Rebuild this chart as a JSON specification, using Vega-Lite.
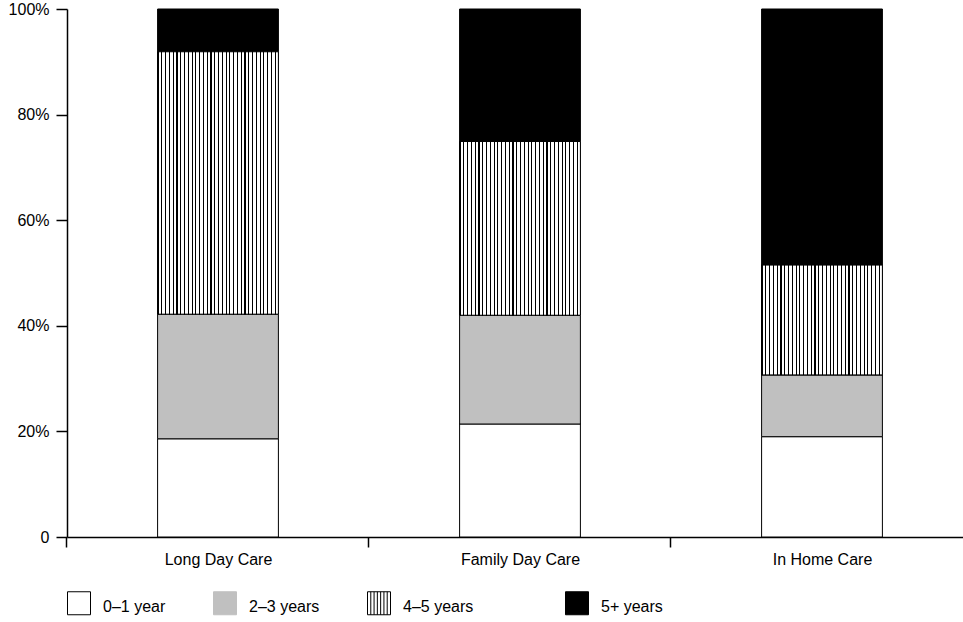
{
  "$schema": "https://vega.github.io/schema/vega-lite/v6.json",
  "width": 896,
  "height": 528,
  "autosize": "none",
  "padding": {"left": 67, "top": 9, "right": 0, "bottom": 85},
  "background": "white",
  "config": {
    "view": {"stroke": null},
    "font": "Liberation Sans",
    "axis": {"labelColor": "black", "labelFont": "Liberation Sans", "labelFontSize": 16, "domainColor": "black", "tickColor": "black", "domainWidth": 1.5, "tickWidth": 1.5, "grid": false, "title": null}
  },
  "data": {
    "values": [
      {"setting": "Long Day Care", "age": "0–1 year", "pct": 18.6},
      {"setting": "Long Day Care", "age": "2–3 years", "pct": 23.6},
      {"setting": "Long Day Care", "age": "4–5 years", "pct": 49.7},
      {"setting": "Long Day Care", "age": "5+ years", "pct": 8.1},
      {"setting": "Family Day Care", "age": "0–1 year", "pct": 21.4},
      {"setting": "Family Day Care", "age": "2–3 years", "pct": 20.6},
      {"setting": "Family Day Care", "age": "4–5 years", "pct": 32.9},
      {"setting": "Family Day Care", "age": "5+ years", "pct": 25.1},
      {"setting": "In Home Care", "age": "0–1 year", "pct": 19.0},
      {"setting": "In Home Care", "age": "2–3 years", "pct": 11.7},
      {"setting": "In Home Care", "age": "4–5 years", "pct": 20.8},
      {"setting": "In Home Care", "age": "5+ years", "pct": 48.5}
    ]
  },
  "transform": [
    {"stack": "pct", "groupby": ["setting"], "sort": [{"field": "age", "order": "ascending"}], "offset": "normalize", "as": ["y0", "y1"]}
  ],
  "encoding": {
    "x": {
      "field": "setting",
      "type": "nominal",
      "sort": ["Long Day Care", "Family Day Care", "In Home Care"],
      "scale": {"paddingInner": 0.6, "paddingOuter": 0.3, "range": [0, 906]},
      "axis": {"labelAngle": 0, "tickOffset": -151.6, "labelOffset": 151.6, "tickSize": 10, "labelPadding": 4}
    },
    "y": {
      "field": "y0",
      "type": "quantitative",
      "scale": {"domain": [0, 1]},
      "axis": {"values": [0, 0.2, 0.4, 0.6, 0.8, 1], "labelExpr": "datum.value == 0 ? '0' : format(datum.value, '.0%')", "tickSize": 11, "labelPadding": 7}
    },
    "y2": {"field": "y1"}
  },
  "layer": [
    {
      "mark": {"type": "bar", "stroke": "black", "strokeWidth": 1},
      "encoding": {
        "color": {
          "field": "age",
          "type": "nominal",
          "scale": {
            "domain": ["0–1 year", "2–3 years", "4–5 years", "5+ years"],
            "range": ["#ffffff", "#c0c0c0", "#ffffff", "#000000"]
          },
          "legend": {
            "orient": "none",
            "legendX": 0,
            "legendY": 582,
            "direction": "horizontal",
            "title": null,
            "padding": 0,
            "symbolType": "square",
            "symbolSize": 529,
            "symbolStrokeColor": "black",
            "symbolStrokeWidth": 1,
            "labelFontSize": 16,
            "labelColor": "black",
            "labelFont": "Liberation Sans",
            "labelOffset": 12,
            "columnPadding": 45,
            "labelExpr": "slice(datum.label, 0, 1) == '4' ? datum.label + '\u00a0\u00a0\u00a0\u00a0\u00a0\u00a0\u00a0\u00a0\u00a0\u00a0\u200d' : datum.label",
            "encode": {
              "labels": {"update": {"dy": {"value": 4}}},
              "symbols": {
                "update": {
                  "stroke": [{"test": "slice(datum.value, 0, 1) == '2'", "value": "#c0c0c0"}, {"value": "black"}],
                  "strokeWidth": {"value": 1},
                  "shape": [
                    {"test": "slice(datum.value, 0, 1) == '4'", "value": "M-1,-1H1V1H-1Z M-0.714,-1V1 M-0.429,-1V1 M-0.143,-1V1 M0.143,-1V1 M0.429,-1V1 M0.714,-1V1"},
                    {"value": "square"}
                  ]
                }
              }
            }
          }
        },
        "order": {"field": "age", "sort": "ascending"}
      }
    },
    {
      "transform": [{"filter": "datum.age === '4–5 years'"}],
      "mark": {"type": "bar", "stroke": "black", "strokeWidth": 1, "fill": {"gradient": "linear", "x1": 0, "y1": 0, "x2": 1, "y2": 0, "stops": [
            {"offset": 0, "color": "#000"}, {"offset": 0.009, "color": "#000"}, {"offset": 0.009, "color": "#fff"}, {"offset": 0.03125, "color": "#fff"},
            {"offset": 0.03125, "color": "#000"}, {"offset": 0.04025, "color": "#000"}, {"offset": 0.04025, "color": "#fff"}, {"offset": 0.0625, "color": "#fff"},
            {"offset": 0.0625, "color": "#000"}, {"offset": 0.0715, "color": "#000"}, {"offset": 0.0715, "color": "#fff"}, {"offset": 0.09375, "color": "#fff"},
            {"offset": 0.09375, "color": "#000"}, {"offset": 0.10275, "color": "#000"}, {"offset": 0.10275, "color": "#fff"}, {"offset": 0.125, "color": "#fff"},
            {"offset": 0.125, "color": "#000"}, {"offset": 0.134, "color": "#000"}, {"offset": 0.134, "color": "#fff"}, {"offset": 0.15625, "color": "#fff"},
            {"offset": 0.15625, "color": "#000"}, {"offset": 0.16525, "color": "#000"}, {"offset": 0.16525, "color": "#fff"}, {"offset": 0.1875, "color": "#fff"},
            {"offset": 0.1875, "color": "#000"}, {"offset": 0.1965, "color": "#000"}, {"offset": 0.1965, "color": "#fff"}, {"offset": 0.21875, "color": "#fff"},
            {"offset": 0.21875, "color": "#000"}, {"offset": 0.22775, "color": "#000"}, {"offset": 0.22775, "color": "#fff"}, {"offset": 0.25, "color": "#fff"},
            {"offset": 0.25, "color": "#000"}, {"offset": 0.259, "color": "#000"}, {"offset": 0.259, "color": "#fff"}, {"offset": 0.28125, "color": "#fff"},
            {"offset": 0.28125, "color": "#000"}, {"offset": 0.29025, "color": "#000"}, {"offset": 0.29025, "color": "#fff"}, {"offset": 0.3125, "color": "#fff"},
            {"offset": 0.3125, "color": "#000"}, {"offset": 0.3215, "color": "#000"}, {"offset": 0.3215, "color": "#fff"}, {"offset": 0.34375, "color": "#fff"},
            {"offset": 0.34375, "color": "#000"}, {"offset": 0.35275, "color": "#000"}, {"offset": 0.35275, "color": "#fff"}, {"offset": 0.375, "color": "#fff"},
            {"offset": 0.375, "color": "#000"}, {"offset": 0.384, "color": "#000"}, {"offset": 0.384, "color": "#fff"}, {"offset": 0.40625, "color": "#fff"},
            {"offset": 0.40625, "color": "#000"}, {"offset": 0.41525, "color": "#000"}, {"offset": 0.41525, "color": "#fff"}, {"offset": 0.4375, "color": "#fff"},
            {"offset": 0.4375, "color": "#000"}, {"offset": 0.4465, "color": "#000"}, {"offset": 0.4465, "color": "#fff"}, {"offset": 0.46875, "color": "#fff"},
            {"offset": 0.46875, "color": "#000"}, {"offset": 0.47775, "color": "#000"}, {"offset": 0.47775, "color": "#fff"}, {"offset": 0.5, "color": "#fff"},
            {"offset": 0.5, "color": "#000"}, {"offset": 0.509, "color": "#000"}, {"offset": 0.509, "color": "#fff"}, {"offset": 0.53125, "color": "#fff"},
            {"offset": 0.53125, "color": "#000"}, {"offset": 0.54025, "color": "#000"}, {"offset": 0.54025, "color": "#fff"}, {"offset": 0.5625, "color": "#fff"},
            {"offset": 0.5625, "color": "#000"}, {"offset": 0.5715, "color": "#000"}, {"offset": 0.5715, "color": "#fff"}, {"offset": 0.59375, "color": "#fff"},
            {"offset": 0.59375, "color": "#000"}, {"offset": 0.60275, "color": "#000"}, {"offset": 0.60275, "color": "#fff"}, {"offset": 0.625, "color": "#fff"},
            {"offset": 0.625, "color": "#000"}, {"offset": 0.634, "color": "#000"}, {"offset": 0.634, "color": "#fff"}, {"offset": 0.65625, "color": "#fff"},
            {"offset": 0.65625, "color": "#000"}, {"offset": 0.66525, "color": "#000"}, {"offset": 0.66525, "color": "#fff"}, {"offset": 0.6875, "color": "#fff"},
            {"offset": 0.6875, "color": "#000"}, {"offset": 0.6965, "color": "#000"}, {"offset": 0.6965, "color": "#fff"}, {"offset": 0.71875, "color": "#fff"},
            {"offset": 0.71875, "color": "#000"}, {"offset": 0.72775, "color": "#000"}, {"offset": 0.72775, "color": "#fff"}, {"offset": 0.75, "color": "#fff"},
            {"offset": 0.75, "color": "#000"}, {"offset": 0.759, "color": "#000"}, {"offset": 0.759, "color": "#fff"}, {"offset": 0.78125, "color": "#fff"},
            {"offset": 0.78125, "color": "#000"}, {"offset": 0.79025, "color": "#000"}, {"offset": 0.79025, "color": "#fff"}, {"offset": 0.8125, "color": "#fff"},
            {"offset": 0.8125, "color": "#000"}, {"offset": 0.8215, "color": "#000"}, {"offset": 0.8215, "color": "#fff"}, {"offset": 0.84375, "color": "#fff"},
            {"offset": 0.84375, "color": "#000"}, {"offset": 0.85275, "color": "#000"}, {"offset": 0.85275, "color": "#fff"}, {"offset": 0.875, "color": "#fff"},
            {"offset": 0.875, "color": "#000"}, {"offset": 0.884, "color": "#000"}, {"offset": 0.884, "color": "#fff"}, {"offset": 0.90625, "color": "#fff"},
            {"offset": 0.90625, "color": "#000"}, {"offset": 0.91525, "color": "#000"}, {"offset": 0.91525, "color": "#fff"}, {"offset": 0.9375, "color": "#fff"},
            {"offset": 0.9375, "color": "#000"}, {"offset": 0.9465, "color": "#000"}, {"offset": 0.9465, "color": "#fff"}, {"offset": 0.96875, "color": "#fff"},
            {"offset": 0.96875, "color": "#000"}, {"offset": 0.97775, "color": "#000"}, {"offset": 0.97775, "color": "#fff"}, {"offset": 1, "color": "#fff"}
          ]}}
    }
  ]
}
